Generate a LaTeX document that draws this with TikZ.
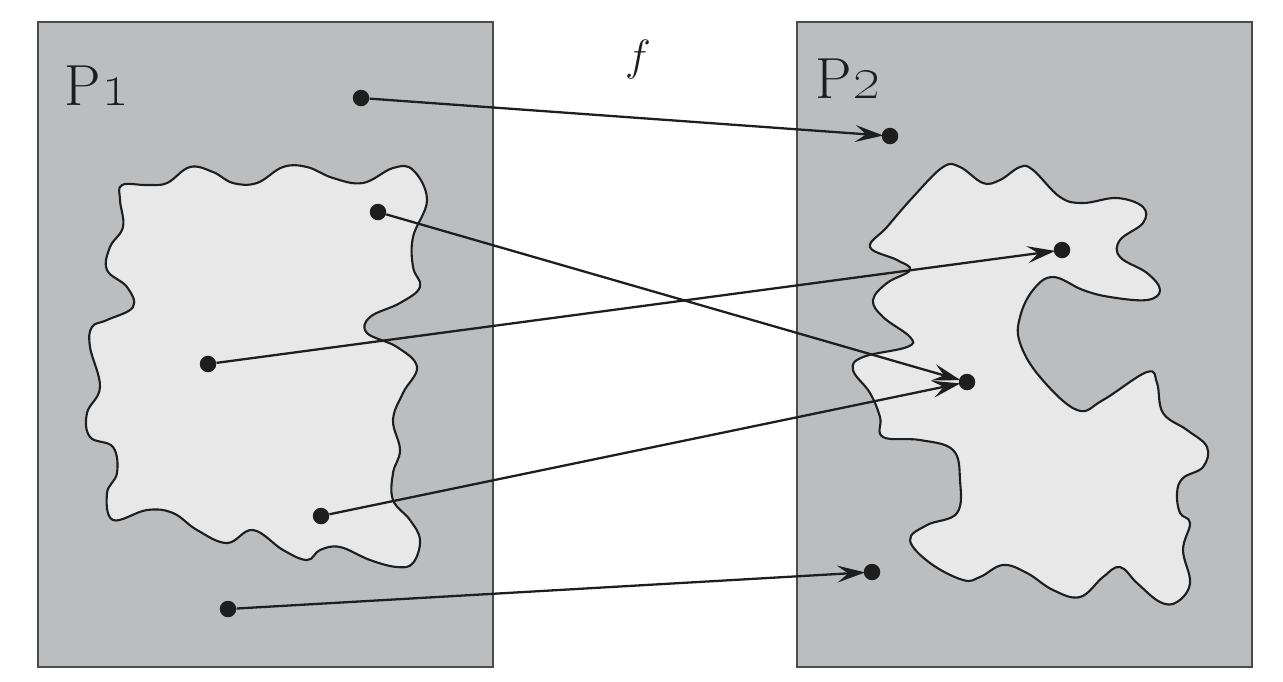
\documentclass[tikz,border=0pt]{standalone}
\usepackage{xcolor}
\usepackage{tikz}
\usetikzlibrary{arrows.meta}
\definecolor{setgray}{HTML}{BCBDBF}
\definecolor{blobfill}{HTML}{E8E8E8}
\definecolor{ink}{HTML}{1E1E1E}

\begin{document}
\begin{tikzpicture}[x=0.02cm,y=-0.02cm,
		box/.style={draw=ink!80,line width=0.9pt,fill=setgray},
		blob/.style={draw=ink,line width=1.2pt,fill=blobfill},
		dot/.style={circle,fill=ink,inner sep=0pt,minimum size=0.33cm},
		lbl/.style={font=\fontsize{33}{38}\selectfont,text=ink},
		arr/.style={-{Stealth[length=0.56cm,width=0.34cm,inset=0.22cm]},draw=ink,line width=1.3pt,shorten >=-1pt}
		]
		\useasboundingbox (0,0) rectangle (1283,681);

		% the two sets
		\draw[box] (38,22) rectangle (493,667);
		\draw[box] (797,22) rectangle (1252,667);

		% left region
		\draw[blob] plot[smooth cycle,tension=0.65] coordinates {
			(122,185) (147,185) (167,183) (190,167) (213,172) (233,183) (257,183) (283,167)
			(307,167) (333,178) (363,183) (393,168) (413,170) (427,200) (413,237) (413,267)
			(420,287) (400,303) (370,317) (367,333) (397,347) (417,367) (403,393) (393,420)
			(400,450) (393,473) (393,500) (410,520) (420,540) (413,563) (397,567) (370,560)
			(340,547) (320,550) (307,560) (283,550) (253,530) (227,543) (197,530) (173,513)
			(147,510) (113,520) (107,493) (117,473) (113,447) (90,437) (87,413) (100,387)
			(90,347) (92,327) (107,320) (133,307) (127,287) (107,270) (110,247) (123,227)
			(120,200)};

		% right region
		\draw[blob] plot[smooth cycle,tension=0.65] coordinates {
			(887,227) (913,197) (943,167) (960,167) (983,183) (1000,180) (1020,167) (1033,170)
			(1060,197) (1083,203) (1117,198) (1143,207) (1143,223) (1120,240) (1120,257) (1147,273)
			(1160,290) (1147,300) (1110,297) (1083,290) (1053,277) (1033,290) (1020,317) (1020,343)
			(1040,377) (1077,410) (1103,400) (1147,372) (1157,383) (1163,413) (1187,430) (1207,447)
			(1203,467) (1183,478) (1177,493) (1180,513) (1190,523) (1183,550) (1190,583) (1177,602)
			(1160,602) (1137,583) (1120,567) (1103,577) (1080,597) (1053,590) (1027,573) (1003,565)
			(980,577) (963,580) (930,563) (910,540) (927,525) (957,513) (960,480) (953,450)
			(920,440) (883,437) (880,417) (870,393) (853,370) (863,357) (907,347) (910,337)
			(883,317) (873,300) (887,283) (910,270) (897,260) (870,247)};

		% labels
		\node[lbl] (p1) at (97,86) {P\oldstylenums{1}};
		\node[lbl] (p2) at (848,79) {P\oldstylenums{2}};
		\node[font=\fontsize{30}{34}\selectfont,text=ink] (f) at (638,60) {$f$};

		% points
		\node[dot] (a1) at (361,98) {};
		\node[dot] (a2) at (378,212) {};
		\node[dot] (a3) at (208,364) {};
		\node[dot] (a4) at (321,516) {};
		\node[dot] (a5) at (228,609) {};
		\node[dot] (b1) at (890,136) {};
		\node[dot] (b2) at (1062,250) {};
		\node[dot] (b3) at (967,382) {};
		\node[dot] (b4) at (872,572) {};

		% mapping
		\draw[arr] (a1) -- (b1);
		\draw[arr] (a2) -- (b3);
		\draw[arr] (a3) -- (b2);
		\draw[arr] (a4) -- (b3);
		\draw[arr] (a5) -- (b4);
	\end{tikzpicture}
\end{document}
